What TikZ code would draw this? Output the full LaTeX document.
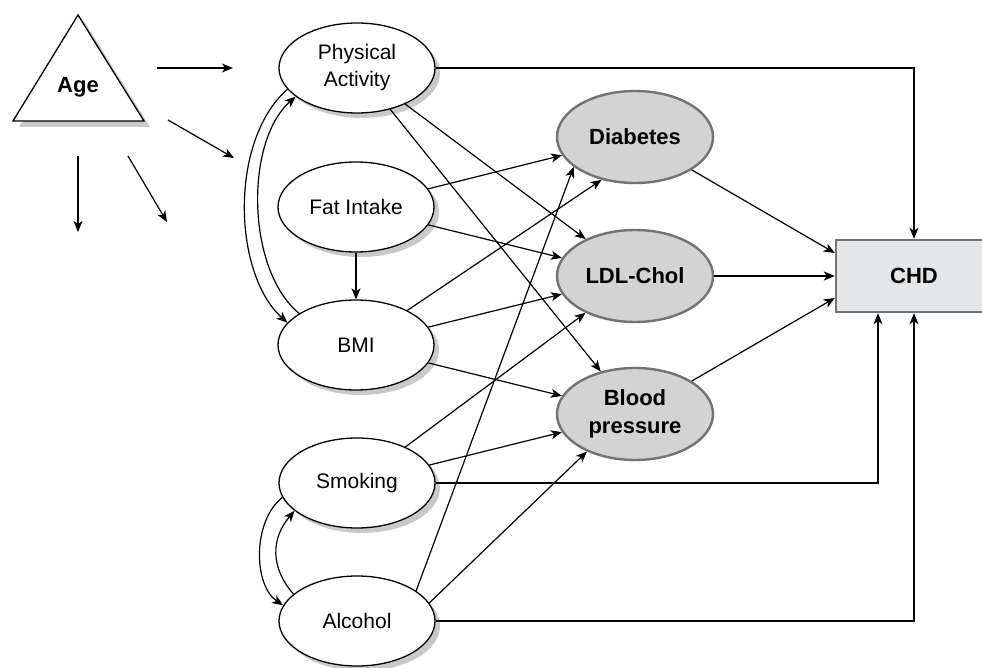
\documentclass[tikz,border=0pt]{standalone}
\usepackage{fontspec}
\setmainfont{Liberation Sans}
\usetikzlibrary{shapes.geometric,arrows.meta,shadows}

\definecolor{shade}{HTML}{C9C9C9}
\definecolor{outfill}{HTML}{D3D3D4}
\definecolor{outline}{HTML}{737373}
\definecolor{chdfill}{HTML}{E5E6E7}

\tikzset{
  base/.style={ellipse, minimum width=156pt, minimum height=90pt, inner sep=0pt,
    align=center, font=\fontsize{21}{27}\selectfont},
  factor/.style={base, draw=black, line width=1.3pt, fill=white,
    drop shadow={shadow xshift=5pt, shadow yshift=-5pt, fill=shade, opacity=1}},
  outcome/.style={base, draw=outline, line width=2.4pt, fill=outfill,
    minimum height=92pt, font=\bfseries\fontsize{22}{28}\selectfont},
  conn/.style={line width=1.2pt, -{Stealth[length=11pt,width=9pt,inset=3pt]}},
}

\begin{document}
\begin{tikzpicture}[x=1pt,y=-1pt]
\useasboundingbox (0,0) rectangle (982,668);
\clip (0,0) rectangle (982,668);

% Age as a moderator
\filldraw[fill=white, draw=black, line width=1.3pt,
  drop shadow={shadow xshift=6pt, shadow yshift=-6pt, fill=shade, opacity=1}]
  (13,121) -- (78,15) -- (144,121) -- cycle;
\node[font=\bfseries\fontsize{22}{26}\selectfont] (age) at (78,87) {Age};

\coordinate (ageA) at (157,68);  \coordinate (ageAe) at (233,68);
\coordinate (ageB) at (168,120); \coordinate (ageBe) at (234,158);
\coordinate (ageC) at (78,156);  \coordinate (ageCe) at (78,232);
\coordinate (ageD) at (128,156); \coordinate (ageDe) at (167,222);

% risk factors
\node[factor] (pa)  at (357,68)  {Physical\\Activity};
\node[factor] (fat) at (356,207) {Fat Intake};
\node[factor] (bmi) at (356,345) {BMI};
\node[factor] (smk) at (357,483) {Smoking};
\node[factor] (alc) at (357,621) {Alcohol};

% intermediate outcomes
\node[outcome] (diab) at (635,137) {Diabetes};
\node[outcome] (ldl)  at (635,276) {LDL-Chol};
\node[outcome] (bp)   at (635,414) {Blood\\pressure};

% endpoint
\node[rectangle, draw=outline, line width=2.4pt, fill=chdfill,
  minimum width=156pt, minimum height=72pt, inner sep=0pt,
  font=\bfseries\fontsize{22}{26}\selectfont] (chd) at (914,276) {CHD};

% arrows from age
\draw[conn] (ageA) -- (ageAe);
\draw[conn] (ageB) -- (ageBe);
\draw[conn] (ageC) -- (ageCe);
\draw[conn] (ageD) -- (ageDe);

% paths between risk factors
\draw[conn] (pa.197) .. controls +(-58,51) and +(-55,-50) .. (bmi.162);
\draw[conn] (bmi.151) .. controls +(-53,-44) and +(-51,45) .. (pa.205);
\draw[conn] (smk.191) .. controls +(-30,23) and +(-30,-20) .. (alc.168);
\draw[conn] (alc.157) .. controls +(-23,-26) and +(-24,28) .. (smk.204);
\draw[conn] (fat) -- (bmi);

% risk factors to intermediate outcomes
\draw[conn] (pa) -- (ldl);
\draw[conn] (pa) -- (bp);
\draw[conn] (fat) -- (diab);
\draw[conn] (fat) -- (ldl);
\draw[conn] (bmi.34) -- (diab.232);
\draw[conn] (bmi) -- (ldl);
\draw[conn] (bmi) -- (bp);
\draw[conn] (smk) -- (ldl);
\draw[conn] (smk) -- (bp);
\draw[conn] (alc.27) -- (diab.206);
\draw[conn] (alc.14) -- (bp.218);

% direct paths to CHD
\draw[conn] (pa.east) -| (chd.north);
\draw[conn] (smk.east) -| ([xshift=-36pt]chd.south);
\draw[conn] (alc.east) -| (chd.south);
\draw[conn] (diab) -- ([yshift=23pt]chd.west);
\draw[conn] (ldl) -- (chd);
\draw[conn] (bp) -- ([yshift=-22pt]chd.west);
\end{tikzpicture}
\end{document}
